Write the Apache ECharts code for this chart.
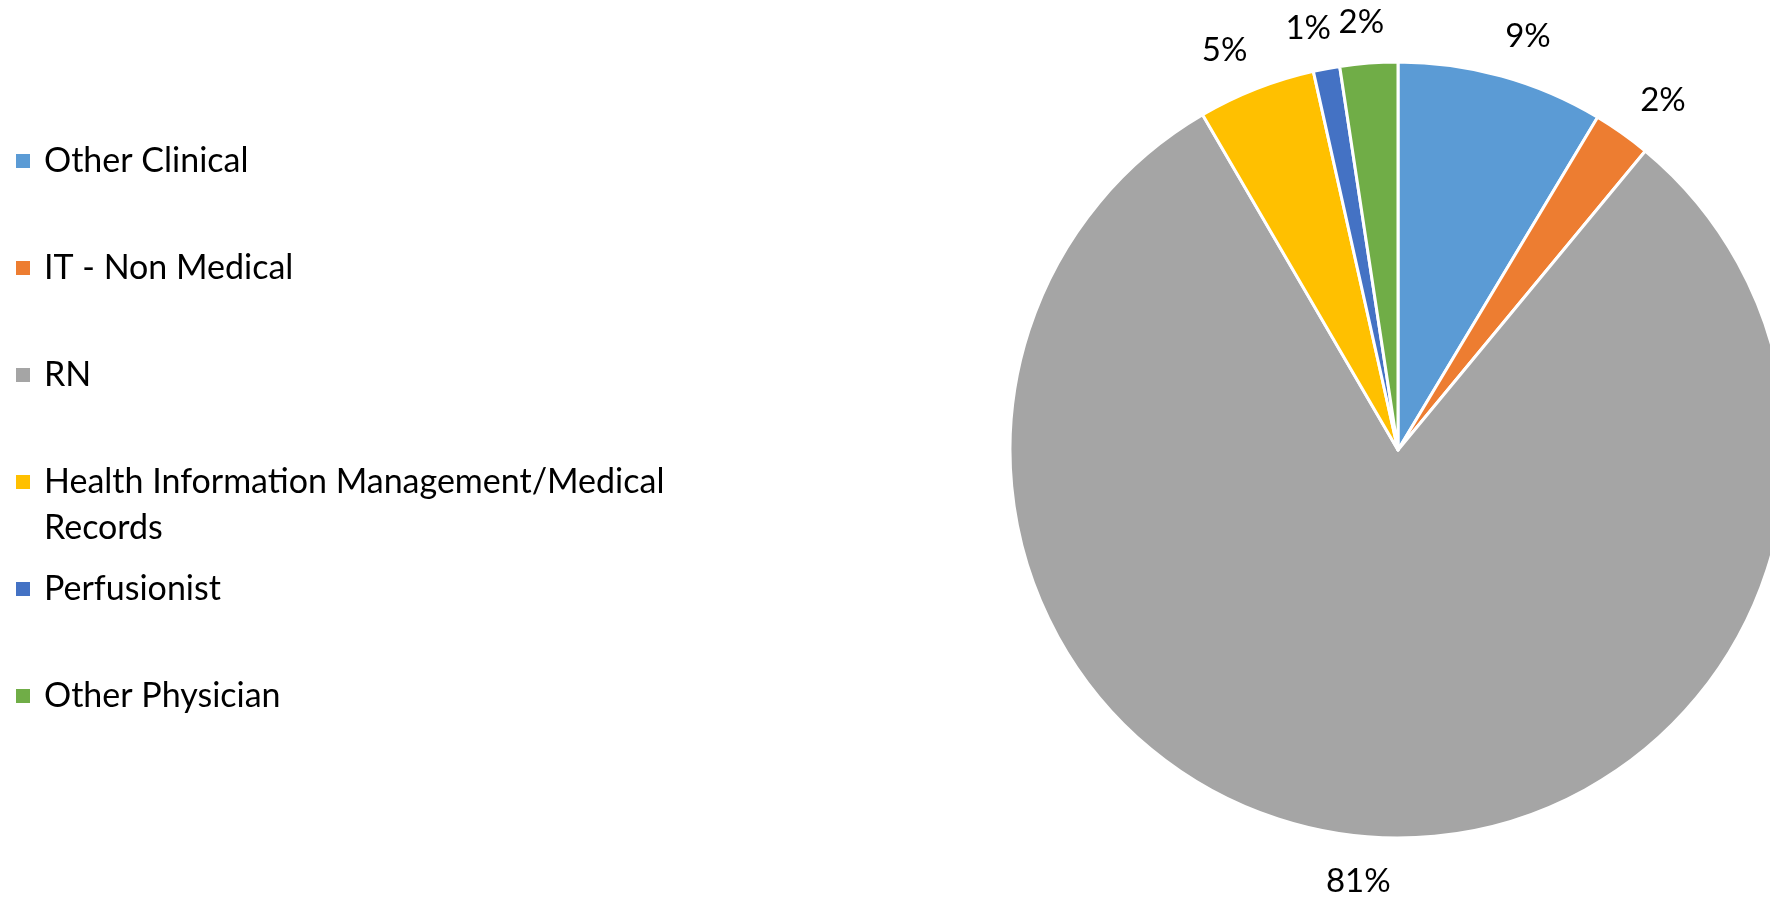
<!DOCTYPE html>
<html>
<head>
<meta charset="utf-8">
<title>Staff mix</title>
<script src="https://cdn.jsdelivr.net/npm/echarts@6/dist/echarts.min.js"></script>
<style>
    html, body { margin: 0; padding: 0; background: #fff; }
    #chart_container { width: 1770px; height: 900px; }
</style>
</head>
<body>
<div id="chart_container"></div>
<script>
"use strict";

// data (share in %)
let categories = ['Other Clinical', 'IT - Non Medical', 'RN', 'Health Information Management/Medical Records', 'Perfusionist', 'Other Physician'];
let shares = [8.6, 2.4, 80.6, 4.9, 1.1, 2.4];
let colors = ['#5B9BD5', '#ED7D31', '#A5A5A5', '#FFC000', '#4472C4', '#70AD47'];

let fontFam = 'Lato, "Open Sans", sans-serif';

let pieCenter = [1398, 450];

// legend rows: each slot is 107px, one text line is 46px
let rowPitch = 107;
let lineH = 46;
let legendTop = 138;

let myChart;

let pieData = () => categories.map((c, i) => ({ name: c, value: shares[i] }));

// the long name wraps like in Excel, but the slot keeps the first line level with the icon,
// so that entry gets its own legend with an empty line above it
let makeLegend = (fromIdx, toIdx, wrap) => {
    let top = legendTop + fromIdx * rowPitch - (wrap ? lineH : 0);
    return {
        orient: 'vertical',
        left: 14,
        top: top,
        padding: 0,
        icon: 'rect',
        itemWidth: 16,
        itemHeight: 16,
        itemGap: rowPitch - lineH,
        formatter: (name) => wrap ? '\n' + name.replace('/Medical ', '/Medical\n') : name,
        textStyle: {
            fontFamily: fontFam,
            fontSize: 34,
            color: '#000',
            lineHeight: lineH,
            padding: [0, 0, 0, 8],
        },
        data: categories.slice(fromIdx, toIdx),
    };
};

// Excel "best fit" spreads the top labels sideways a bit
let spreadLabel = (params) => {
    let r = params.labelRect;
    let lx = r.x + r.width / 2 - pieCenter[0];
    let dx = Math.max(-16, Math.min(16, lx * 0.13));
    return { dx: dx, dy: 2 };
};

let pageLoaded = () => {
    let chartDom = document.getElementById('chart_container');
    myChart = echarts.init(chartDom);

    let optEchart = {
        backgroundColor: '#fff',
        color: colors,
        animation: false,
        legend: [
            makeLegend(0, 3, false),
            makeLegend(3, 4, true),
            makeLegend(4, 6, false),
        ],
        series: [
            {
                type: 'pie',
                center: pieCenter,
                radius: 388,
                startAngle: 90,
                clockwise: true,
                label: { show: false },
                labelLine: { show: false },
                itemStyle: { borderColor: '#fff', borderWidth: 3 },
                emphasis: { disabled: true },
                data: pieData(),
            },
            {
                // transparent ring, only carries the % labels just outside the pie
                type: 'pie',
                center: pieCenter,
                radius: [416, 440],
                startAngle: 90,
                clockwise: true,
                silent: true,
                legendHoverLink: false,
                itemStyle: { color: 'rgba(0,0,0,0)' },
                emphasis: { disabled: true },
                labelLine: { show: false },
                label: {
                    show: true,
                    position: 'inside',
                    fontFamily: fontFam,
                    fontSize: 33,
                    color: '#000',
                    formatter: (p) => Math.round(p.percent) + '%',
                },
                labelLayout: spreadLabel,
                data: pieData(),
            },
        ],
    };

    myChart.setOption(optEchart);
    console.log(`echart config and creation complete`);
};

window.addEventListener('load', pageLoaded, false);
</script>
</body>
</html>
